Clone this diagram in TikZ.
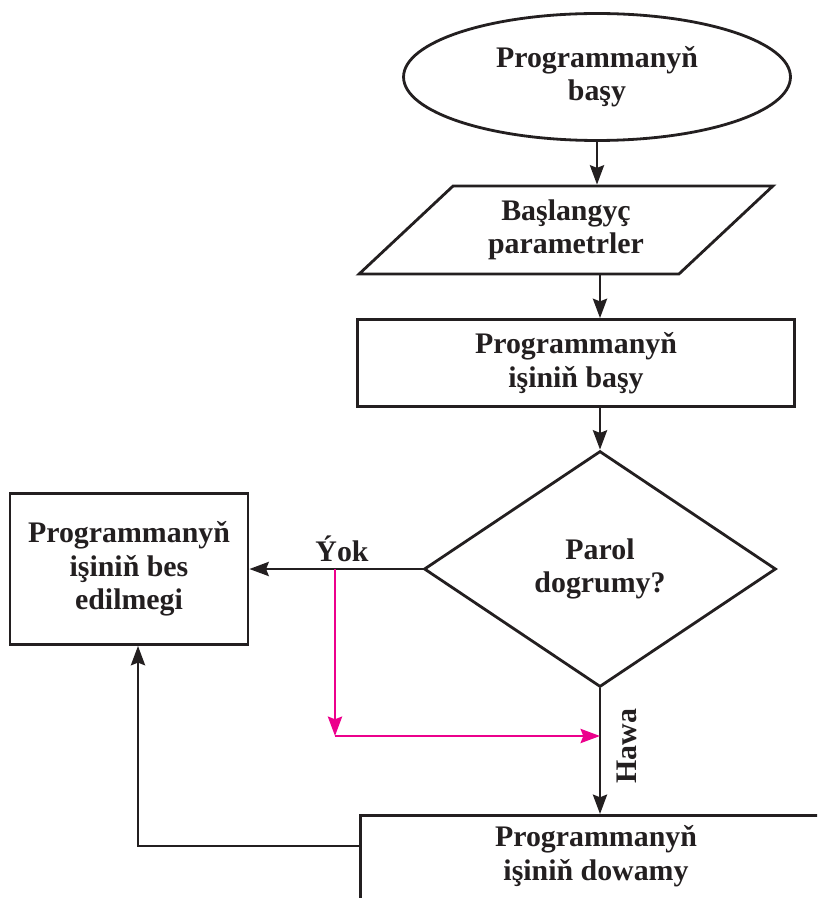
\documentclass[tikz,border=0pt]{standalone}
\usepackage{fontspec}
\setmainfont{Liberation Serif}
\usetikzlibrary{shapes.geometric,arrows.meta}
\definecolor{ink}{RGB}{35,31,32}
\definecolor{pinkline}{RGB}{236,0,140}
\tikzset{
  flow/.style={draw=ink, line width=1.6pt, align=center, text=ink,
    font=\bfseries\fontsize{17}{19}\selectfont},
  lbl/.style={text=ink, align=center, font=\bfseries\fontsize{17}{19}\selectfont},
  arr/.style={draw=ink, line width=1.6pt, -{Stealth[length=11pt,width=8pt,inset=1.5pt]}},
  pinkarr/.style={draw=pinkline, line width=1.6pt, -{Stealth[length=11pt,width=8pt,inset=1.5pt]}}
}

\begin{document}
\begin{tikzpicture}[x=0.02cm, y=-0.02cm]
  \useasboundingbox (0,0) rectangle (817,898);
  \clip (0,0) rectangle (817,898);
  % main column
  \node[flow, ellipse, minimum width=7.74cm, minimum height=2.54cm] (start) at (597,77) {Programmanyň\\başy};
  \node[flow, trapezium, trapezium left angle=46, trapezium right angle=134, trapezium stretches=true,
        minimum width=8.3cm, minimum height=1.76cm] (inp) at (566,230) {Başlangyç\\parametrler};
  \node[flow, rectangle, minimum width=8.74cm, minimum height=1.74cm] (init) at (576,363) {Programmanyň\\işiniň başy};
  \node[flow, diamond, aspect=1.5, minimum width=7.04cm, minimum height=4.72cm] (dec) at (600,569) {Parol\\dogrumy?};
  % side box and the box cut by the page edge
  \node[flow, rectangle, minimum width=4.76cm, minimum height=3.02cm] (stop) at (129,569) {Programmanyň\\işiniň bes\\edilmegi};
  \node[flow, rectangle, anchor=north west, minimum width=10cm, minimum height=3cm] (cont) at (359,814) {};
  \node[lbl] (contText) at (596,856) {Programmanyň\\işiniň dowamy};
  % labels
  \node[lbl] (no) at (342,549) {Ýok};
  \node[lbl, rotate=90] (yes) at (627,746) {Hawa};
  % connectors
  \draw[arr] (start.south) -- (start.south |- inp.north);
  \draw[arr] (inp.south -| dec.north) -- (init.north -| dec.north);
  \draw[arr] (init.south -| dec.north) -- (dec.north);
  \draw[arr] (dec.west) -- (stop.east |- dec.west);
  \draw[arr] (dec.south) -- (dec.south |- cont.north);
  \coordinate (back) at (138,846);
  \draw[arr] (cont.north west |- back) -| (stop.south -| back);
  % pink bypass
  \coordinate (split) at (335,569);
  \coordinate (join) at (335,736);
  \draw[pinkarr] (split) -- (join);
  \draw[pinkarr] (join) -- (join -| dec.south);
\end{tikzpicture}
\end{document}
